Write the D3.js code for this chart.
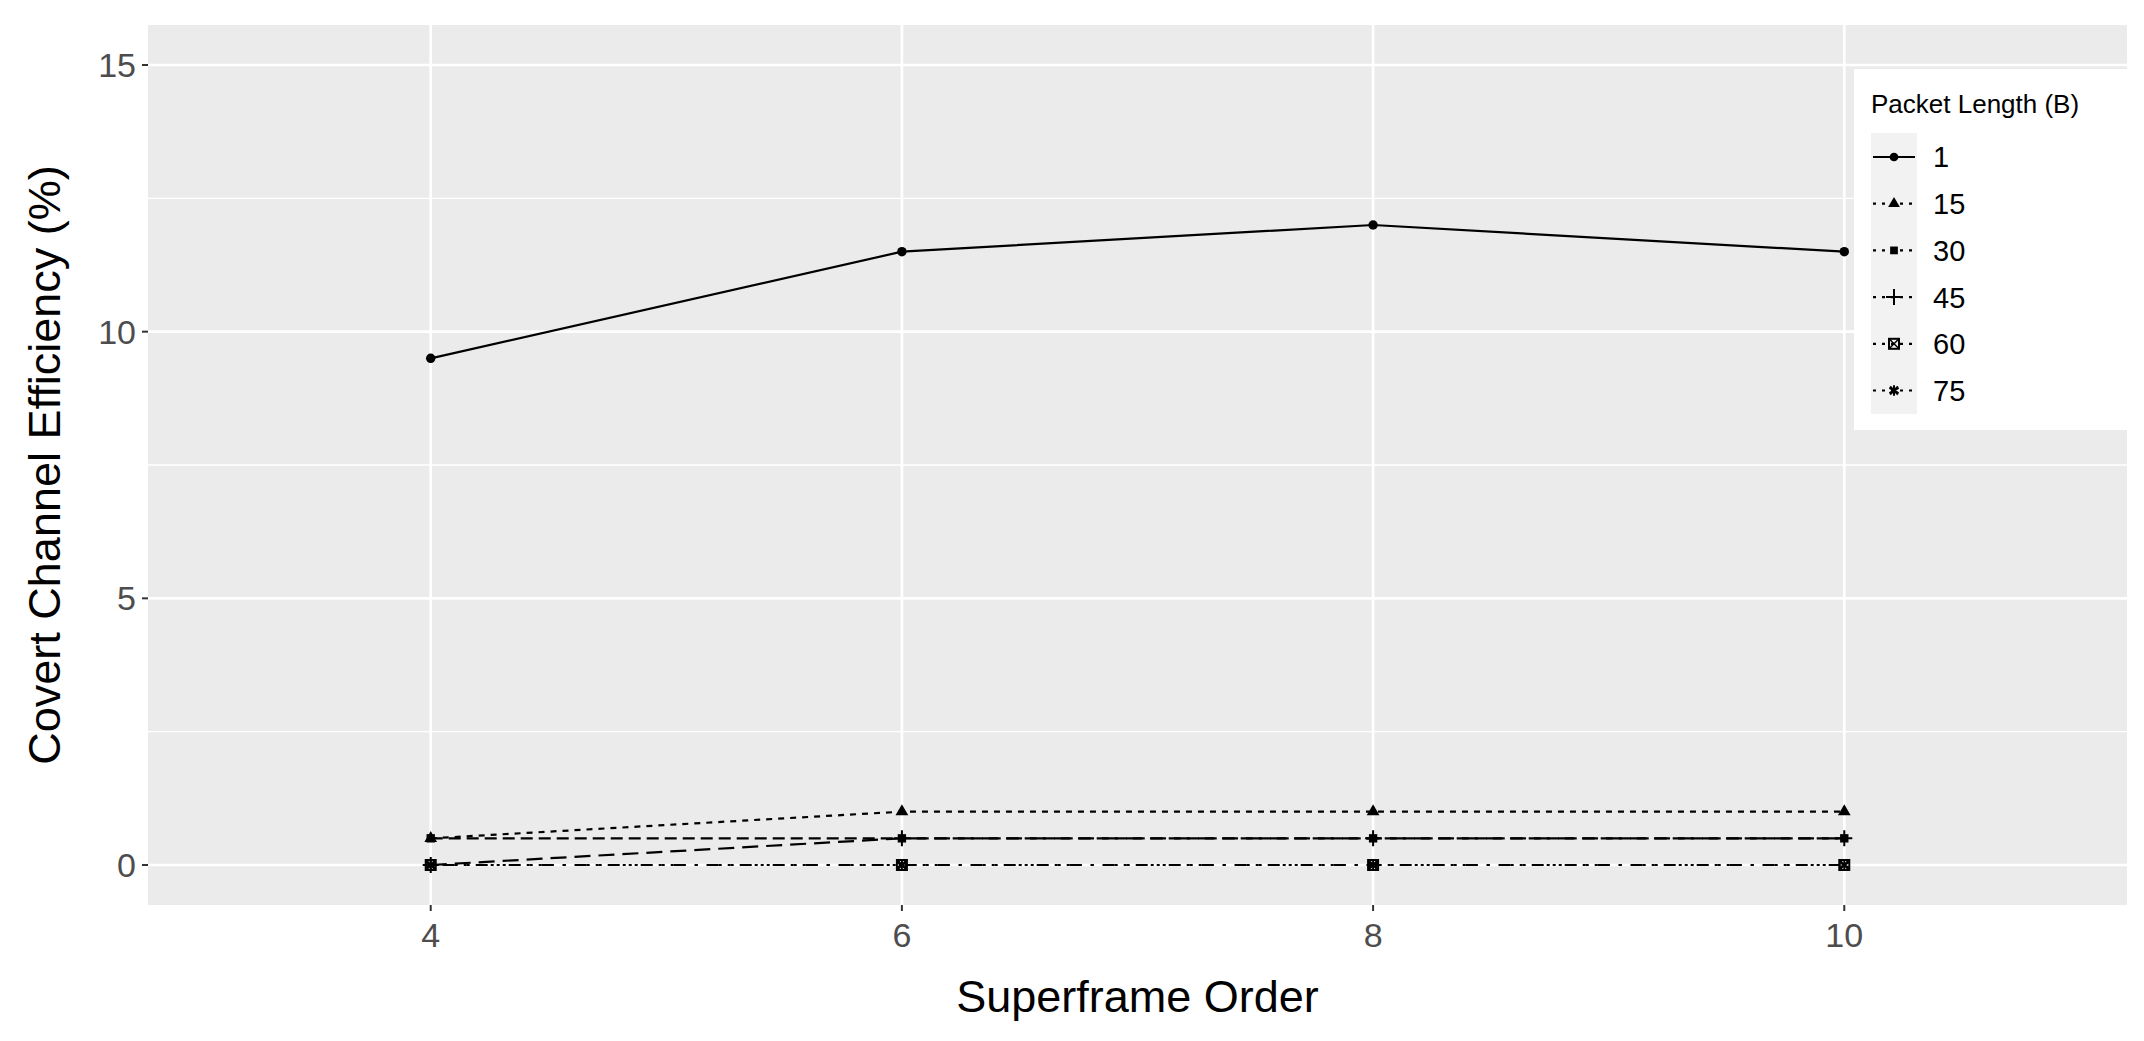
<!DOCTYPE html>
<html><head><meta charset="utf-8">
<script src="https://cdn.jsdelivr.net/npm/d3@7"></script>
<style>body{margin:0;background:#fff}</style></head>
<body><svg id="c" width="2144" height="1041"></svg>
<script>
const xValues=[4,6,8,10];
const seriesNames=["1","15","30","45","60","75"];
const s1=[9.5,11.5,12,11.5];
const s15=[0.5,1,1,1];
const s30=[0.5,0.5,0.5,0.5];
const s45=[0,0.5,0.5,0.5];
const s60=[0,0,0,0];
const s75=[0,0,0,0];
const seriesValues=[s1,s15,s30,s45,s60,s75];
const yTicks=[0,5,10,15];
const xTicks=[4,6,8,10];
const dashes=["none","6,6","12,6","16,8","3,9","3,9,12,9"];
const shapes=[d3.symbolCircle,d3.symbolTriangle,d3.symbolSquare,"plus","sqx",d3.symbolAsterisk];

const svg=d3.select("#c");
const L=148,R=2127,T=25,B=905;
const x=d3.scaleLinear().domain([2.8,11.2]).range([L,R]);
const y=d3.scaleLinear().domain([-0.75,15.75]).range([B,T]);
svg.append("rect").attr("x",L).attr("y",T).attr("width",R-L).attr("height",B-T).attr("fill","#EBEBEB");
[2.5,7.5,12.5].forEach(v=>svg.append("line").attr("x1",L).attr("x2",R).attr("y1",y(v)).attr("y2",y(v)).attr("stroke","#fff").attr("stroke-width",1.3));
yTicks.forEach(v=>svg.append("line").attr("x1",L).attr("x2",R).attr("y1",y(v)).attr("y2",y(v)).attr("stroke","#fff").attr("stroke-width",2.7));
xTicks.forEach(v=>svg.append("line").attr("y1",T).attr("y2",B).attr("x1",x(v)).attr("x2",x(v)).attr("stroke","#fff").attr("stroke-width",2.7));
yTicks.forEach(v=>{svg.append("line").attr("x1",L-6).attr("x2",L).attr("y1",y(v)).attr("y2",y(v)).attr("stroke","#333").attr("stroke-width",2);
 svg.append("text").attr("x",L-12).attr("y",y(v)).attr("dy","0.35em").attr("text-anchor","end").attr("font-family","Liberation Sans, Arial").attr("font-size",34).attr("fill","#4D4D4D").text(v);});
xTicks.forEach(v=>{svg.append("line").attr("y1",B).attr("y2",B+6).attr("x1",x(v)).attr("x2",x(v)).attr("stroke","#333").attr("stroke-width",2);
 svg.append("text").attr("x",x(v)).attr("y",B+42).attr("text-anchor","middle").attr("font-family","Liberation Sans, Arial").attr("font-size",34).attr("fill","#4D4D4D").text(v);});
svg.append("text").attr("x",(L+R)/2).attr("y",1012).attr("text-anchor","middle").attr("font-family","Liberation Sans, Arial").attr("font-size",45).text("Superframe Order");
svg.append("text").attr("transform",`translate(60,${(T+B)/2}) rotate(-90)`).attr("text-anchor","middle").attr("font-family","Liberation Sans, Arial").attr("font-size",45).text("Covert Channel Efficiency (%)");

function marker(g,i,cx,cy,sz){
 const s=shapes[i];
 if(s==="plus"){g.append("path").attr("d",`M${cx-8},${cy}H${cx+8}M${cx},${cy-8}V${cy+8}`).attr("stroke","#000").attr("stroke-width",2);}
 else if(s==="sqx"){g.append("rect").attr("x",cx-5).attr("y",cy-5).attr("width",10).attr("height",10).attr("fill","none").attr("stroke","#000").attr("stroke-width",2);
  g.append("path").attr("d",`M${cx-5},${cy-5}L${cx+5},${cy+5}M${cx+5},${cy-5}L${cx-5},${cy+5}`).attr("stroke","#000").attr("stroke-width",1.5);}
 else if(s===d3.symbolAsterisk){g.append("path").attr("transform",`translate(${cx},${cy})`).attr("d",d3.symbol(d3.symbolAsterisk,sz*1.3)).attr("fill","none").attr("stroke","#000").attr("stroke-width",2);
  g.append("path").attr("transform",`translate(${cx},${cy})`).attr("d",d3.symbol(d3.symbolX,sz*0.7)).attr("fill","none").attr("stroke","#000").attr("stroke-width",2);}
 else g.append("path").attr("transform",`translate(${cx},${cy})`).attr("d",d3.symbol(s,sz)).attr("fill","#000");
}
const line=d3.line().x((d,j)=>x(xValues[j])).y(d=>y(d));
seriesValues.forEach((vals,i)=>{
 const g=svg.append("g");
 g.append("path").attr("d",line(vals)).attr("fill","none").attr("stroke","#000").attr("stroke-width",2.2).attr("stroke-dasharray",dashes[i]);
 vals.forEach((v,j)=>marker(g,i,x(xValues[j]),y(v),70));
});
// legend
svg.append("rect").attr("x",1854).attr("y",69).attr("width",290).attr("height",361).attr("fill","#fff");
svg.append("text").attr("x",1871).attr("y",113).attr("font-family","Liberation Sans, Arial").attr("font-size",26).text("Packet Length (B)");
svg.append("rect").attr("x",1871).attr("y",133).attr("width",46).attr("height",281).attr("fill","#F2F2F2");
seriesNames.forEach((n,i)=>{
 const cy=157+i*46.7;const g=svg.append("g");
 g.append("line").attr("x1",1873).attr("x2",1915).attr("y1",cy).attr("y2",cy).attr("stroke","#000").attr("stroke-width",2.2).attr("stroke-dasharray",dashes[i]==="none"?"none":"3,6");
 marker(g,i,1894,cy,60);
 g.append("text").attr("x",1933).attr("y",cy).attr("dy","0.36em").attr("font-family","Liberation Sans, Arial").attr("font-size",29).text(n);
});
</script></body></html>
